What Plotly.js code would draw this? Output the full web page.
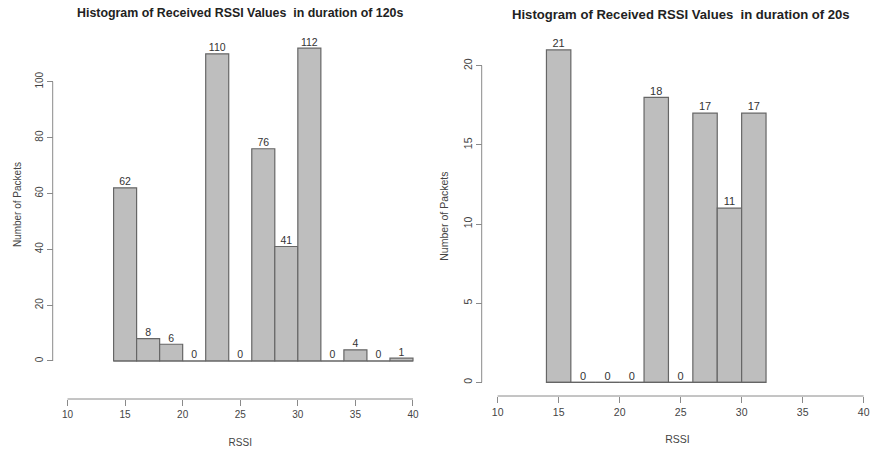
<!DOCTYPE html>
<html>
<head>
<meta charset="utf-8">
<script src="https://cdn.plot.ly/plotly-3.0.1.min.js"></script>
<style>html,body{margin:0;padding:0;background:#fff;}#chart{width:872px;height:452px;}</style>
</head>
<body>
<div id="chart"></div>
<script>
// ---- data ----
const breaks120 = [14,16,18,20,22,24,26,28,30,32,34,36,38,40];
const counts120 = [62,8,6,0,110,0,76,41,112,0,4,0,1];
const breaks20 = [14,16,18,20,22,24,26,28,30,32];
const counts20 = [21,0,0,0,18,0,17,11,17];
const xTicks = [10,15,20,25,30,35,40];
const yTicks120 = [0,20,40,60,80,100];
const yTicks20 = [0,5,10,15,20];
const title120 = "Histogram of Received RSSI Values  in duration of 120s";
const title20 = "Histogram of Received RSSI Values  in duration of 20s";
const xLabel = "RSSI";
const yLabel = "Number of Packets";

// ---- helpers ----
const W = 872, H = 452;
const px = v => v / W;
const py = v => 1 - v / H;
const mids = b => b.slice(0, -1).map((v, i) => (v + b[i + 1]) / 2);
const widths = b => b.slice(0, -1).map((v, i) => b[i + 1] - v);

const FONT = "Liberation Sans, Arial, sans-serif";
const AX = "#8a8a8a";
const TXT = "#444";

function panel(breaks, counts, xa, ya, fs) {
  const xs = mids(breaks);
  return [
    {type:"scatter", mode:"lines", x:[breaks[0], breaks[breaks.length-1]], y:[0,0],
     xaxis:xa, yaxis:ya, line:{color:"#666", width:1}, hoverinfo:"skip", showlegend:false},
    {type:"bar", x:xs, y:counts, width:widths(breaks), xaxis:xa, yaxis:ya,
     marker:{color:"#bebebe", line:{color:"#666", width:1.2}}, showlegend:false},
    {type:"scatter", mode:"text", x:xs, y:counts, text:counts.map(String),
     textposition:"top center", textfont:{family:FONT, size:fs, color:"#333"},
     xaxis:xa, yaxis:ya, cliponaxis:false, showlegend:false, hoverinfo:"skip"}
  ];
}

const data = [].concat(
  panel(breaks120, counts120, "x", "y", 10.5),
  panel(breaks20, counts20, "x2", "y2", 11)
);

function xAxis(domain, range, pos, fs, standoff) {
  return {domain, range, anchor:"free", position:pos, showline:false, showgrid:false, zeroline:false,
    tickmode:"array", tickvals:xTicks, ticks:"outside", ticklen:6, tickwidth:1, tickcolor:AX,
    tickfont:{family:FONT, size:fs, color:TXT},
    title:{text:xLabel, font:{family:FONT, size:fs, color:TXT}, standoff:standoff}};
}
function yAxis(domain, range, pos, ticks, fs) {
  return {domain, range, anchor:"free", position:pos, showline:false, showgrid:false, zeroline:false,
    tickmode:"array", tickvals:ticks, ticks:"outside", ticklen:6, tickwidth:1, tickcolor:AX,
    tickangle:-90, tickfont:{family:FONT, size:fs, color:TXT},
    title:{text:yLabel, font:{family:FONT, size:fs, color:TXT}, standoff:9}};
}

const leftX = {dom:[px(53.7), px(426.8)], range:[8.8, 41.2], pos:py(399)};
const leftY = {dom:[py(373.5), py(35.7)], range:[-4.48, 116.48], pos:px(52.7)};
const rightX = {dom:[px(483), 1], range:[8.8, 40.685], pos:py(396)};
const rightY = {dom:[py(395.6), py(36.6)], range:[-0.84, 21.84], pos:px(481.7)};

function axisLines(xa, ya, xPos, yPos, yTicks) {
  return [
    {type:"line", xref:xa, yref:"paper", x0:xTicks[0], x1:xTicks[xTicks.length-1], y0:yPos, y1:yPos,
     line:{color:AX, width:1}},
    {type:"line", xref:"paper", yref:ya, x0:xPos, x1:xPos, y0:yTicks[0], y1:yTicks[yTicks.length-1],
     line:{color:AX, width:1}}
  ];
}

const layout = {
  width:W, height:H, margin:{l:0, r:0, t:0, b:0},
  paper_bgcolor:"#fff", plot_bgcolor:"rgba(0,0,0,0)",
  showlegend:false, bargap:0,
  xaxis: xAxis(leftX.dom, leftX.range, leftX.pos, 10, 19),
  yaxis: yAxis(leftY.dom, leftY.range, leftY.pos, yTicks120, 10),
  xaxis2: xAxis(rightX.dom, rightX.range, rightX.pos, 10.5, 19),
  yaxis2: yAxis(rightY.dom, rightY.range, rightY.pos, yTicks20, 10.5),
  shapes: [].concat(
    axisLines("x", "y", leftY.pos, leftX.pos, yTicks120),
    axisLines("x2", "y2", rightY.pos, rightX.pos, yTicks20)
  ),
  annotations: [
    {text:"<b>"+title120+"</b>", xref:"paper", yref:"paper", x:px(240), y:py(13), xanchor:"center", yanchor:"middle",
     showarrow:false, font:{family:FONT, size:12.4, color:"#222"}},
    {text:"<b>"+title20+"</b>", xref:"paper", yref:"paper", x:px(681), y:py(14), xanchor:"center", yanchor:"middle",
     showarrow:false, font:{family:FONT, size:13.1, color:"#222"}}
  ]
};

Plotly.newPlot("chart", data, layout, {staticPlot:true, displayModeBar:false});
</script>
</body>
</html>
